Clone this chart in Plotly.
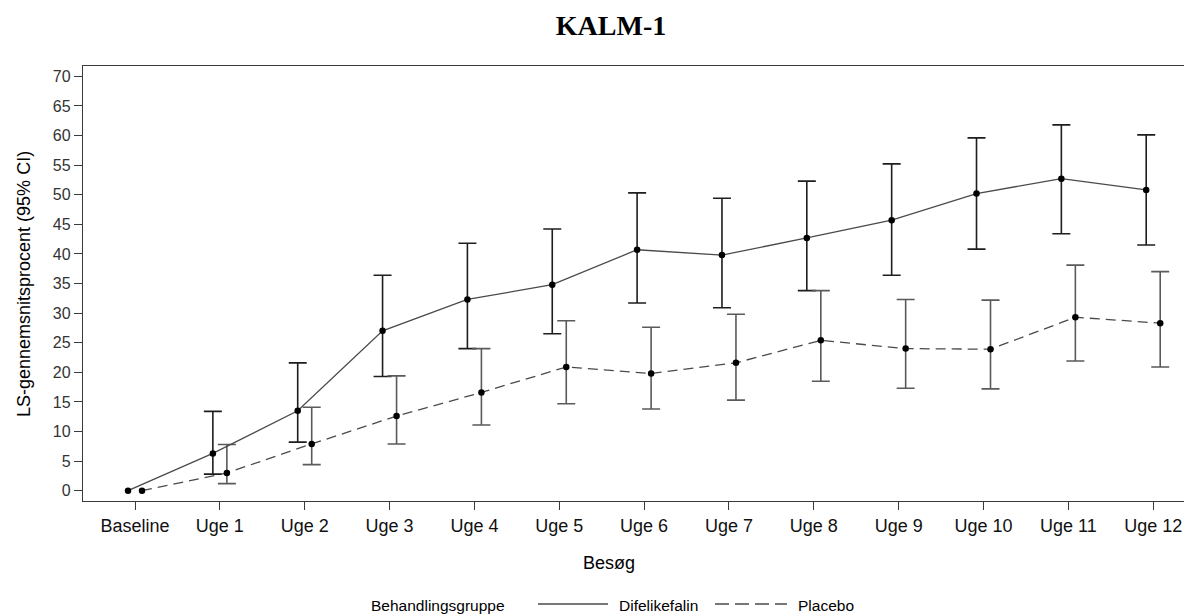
import plotly.graph_objects as go

visits = ["Baseline", "Uge 1", "Uge 2", "Uge 3", "Uge 4", "Uge 5", "Uge 6",
          "Uge 7", "Uge 8", "Uge 9", "Uge 10", "Uge 11", "Uge 12"]

dif_mean = [0, 6.3, 13.5, 27.0, 32.3, 34.8, 40.7, 39.8, 42.7, 45.7, 50.2, 52.7, 50.8]
dif_upper = [None, 13.4, 21.6, 36.4, 41.8, 44.2, 50.3, 49.4, 52.3, 55.2, 59.6, 61.8, 60.1]
dif_lower = [None, 2.8, 8.2, 19.3, 24.0, 26.5, 31.7, 30.9, 33.8, 36.4, 40.8, 43.4, 41.5]

pla_mean = [0, 3.0, 7.9, 12.6, 16.6, 20.9, 19.8, 21.6, 25.4, 24.0, 23.9, 29.3, 28.3]
pla_upper = [None, 7.8, 14.1, 19.4, 24.0, 28.7, 27.6, 29.8, 33.8, 32.3, 32.2, 38.1, 37.0]
pla_lower = [None, 1.2, 4.4, 7.9, 11.1, 14.7, 13.8, 15.3, 18.5, 17.3, 17.2, 21.9, 20.9]

offset = 0.0825
idx = list(range(len(visits)))
x_dif = [i - offset for i in idx]
x_pla = [i + offset for i in idx]

# page body margin (8px) shifts the figure; size the figure to fit the window
BODY = 8
W, H = 1192 - BODY, 616 - BODY
# plot-area edges in screenshot pixels
SL, SR, ST, SB = 83, 1188, 66, 501
PL, PR, PT, PB = SL - BODY, SR - BODY, ST - BODY, SB - BODY


def px_x(sx):
    return (sx - SL) / (SR - SL)


def px_y(sy):
    return (SB - sy) / (SB - ST)


def ci_trace(xs, mean, up, lo, color):
    keep = [i for i, u in enumerate(up) if u is not None]
    return go.Scatter(
        x=[xs[i] for i in keep], y=[mean[i] for i in keep],
        mode="markers", showlegend=False, hoverinfo="skip",
        marker=dict(size=0.1, color=color, opacity=0),
        error_y=dict(type="data", symmetric=False,
                     array=[up[i] - mean[i] for i in keep],
                     arrayminus=[mean[i] - lo[i] for i in keep],
                     color=color, thickness=1.6, width=9),
    )


fig = go.Figure()
fig.add_trace(ci_trace(x_dif, dif_mean, dif_upper, dif_lower, "#1e1e1e"))
fig.add_trace(ci_trace(x_pla, pla_mean, pla_upper, pla_lower, "#5a5a5a"))

fig.add_trace(go.Scatter(
    x=x_dif, y=dif_mean, mode="lines", name="Difelikefalin", showlegend=False,
    line=dict(color="#4a4a4a", width=1.3),
))
fig.add_trace(go.Scatter(
    x=x_pla, y=pla_mean, mode="lines", name="Placebo", showlegend=False,
    line=dict(color="#4a4a4a", width=1.3, dash="10px,6px"),
))
fig.add_trace(go.Scatter(
    x=x_dif, y=dif_mean, mode="markers", showlegend=False,
    marker=dict(color="black", size=6.5),
))
fig.add_trace(go.Scatter(
    x=x_pla, y=pla_mean, mode="markers", showlegend=False,
    marker=dict(color="black", size=6.5),
))

font_family = "Liberation Sans, Arial, sans-serif"
leg_y = px_y(605)

annotations = [
    dict(text="LS-gennemsnitsprocent (95% CI)", textangle=-90, x=px_x(24), y=px_y(284),
         xref="paper", yref="paper", showarrow=False, xanchor="center", yanchor="middle",
         font=dict(size=18, family=font_family, color="black")),
    dict(text="Besøg", x=px_x(609), y=px_y(563), xref="paper", yref="paper",
         showarrow=False, xanchor="center", yanchor="middle",
         font=dict(size=18, family=font_family, color="black")),
    dict(text="Behandlingsgruppe", x=px_x(369), y=leg_y, xref="paper", yref="paper",
         showarrow=False, xanchor="left", yanchor="middle",
         font=dict(size=15.5, family=font_family, color="black")),
    dict(text="Difelikefalin", x=px_x(617), y=leg_y, xref="paper", yref="paper",
         showarrow=False, xanchor="left", yanchor="middle",
         font=dict(size=15.5, family=font_family, color="black")),
    dict(text="Placebo", x=px_x(796), y=leg_y, xref="paper", yref="paper",
         showarrow=False, xanchor="left", yanchor="middle",
         font=dict(size=15.5, family=font_family, color="black")),
]

shapes = [
    dict(type="line", xref="paper", yref="paper", x0=px_x(538), x1=px_x(608),
         y0=px_y(604), y1=px_y(604), line=dict(color="#4a4a4a", width=1.3)),
    dict(type="line", xref="paper", yref="paper", x0=px_x(715), x1=px_x(787),
         y0=px_y(604), y1=px_y(604), line=dict(color="#4a4a4a", width=1.3, dash="14px,6px")),
]

fig.update_layout(
    width=W, height=H,
    paper_bgcolor="white", plot_bgcolor="white",
    margin=dict(l=PL, r=W - PR, t=PT, b=H - PB),
    font=dict(family=font_family, color="black"),
    showlegend=False,
    title=dict(text="<b>KALM-1</b>", xref="container", x=(611 - BODY) / W, xanchor="center",
               yref="container", y=1 - (25.5 - BODY) / H, yanchor="middle",
               font=dict(family="Liberation Serif, Times New Roman, serif", size=28, color="black")),
    xaxis=dict(
        range=[-0.613, 12.41], tickmode="array", tickvals=idx, ticktext=visits,
        showgrid=False, zeroline=False, showline=True, linecolor="#3a3a3a", linewidth=1.4,
        mirror=True, ticks="outside", ticklen=8, tickcolor="#3a3a3a", tickwidth=1.4,
        tickfont=dict(size=18, color="#111111"), automargin=False,
    ),
    yaxis=dict(
        range=[-1.74, 71.74], tickmode="array", tickvals=list(range(0, 71, 5)),
        showgrid=False, zeroline=False, showline=True, linecolor="#3a3a3a", linewidth=1.4,
        mirror=True, ticks="outside", ticklen=8, tickcolor="#3a3a3a", tickwidth=1.4,
        tickfont=dict(size=16, color="#333333"), automargin=False,
    ),
    annotations=annotations,
    shapes=shapes,
)

fig.write_html("out.html")
